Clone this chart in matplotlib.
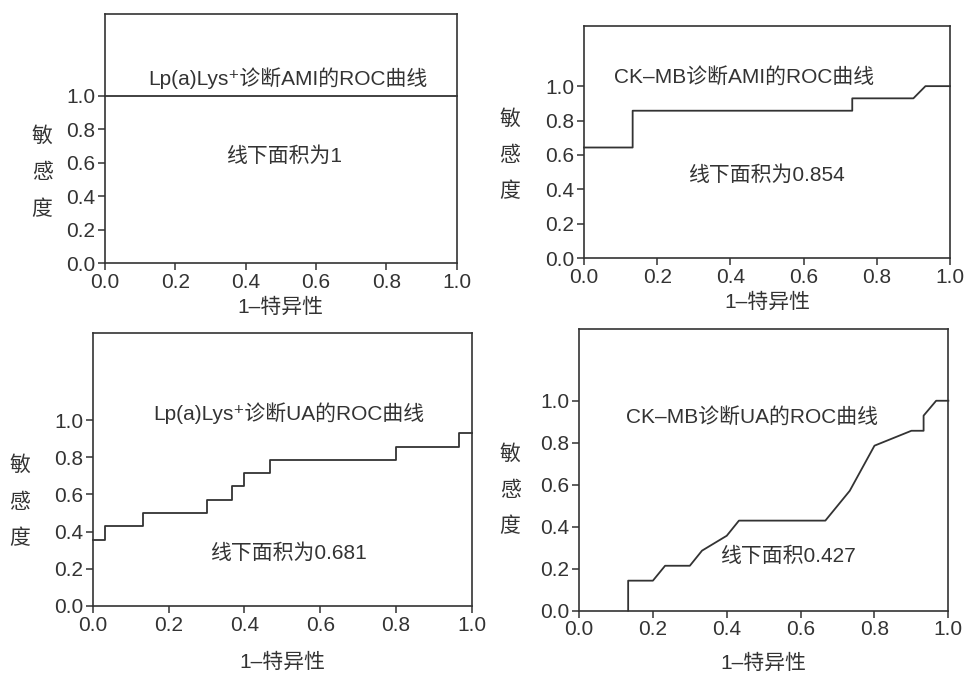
import matplotlib
matplotlib.use("Agg")
from matplotlib import pyplot as plt

plt.rcParams['font.family'] = ['Liberation Sans', 'Noto Sans CJK SC', 'DejaVu Sans']

# ROC curve points (x = 1-specificity, y = sensitivity)
lpa_ami_x = [0.0, 1.0]
lpa_ami_y = [1.0, 1.0]

ckmb_ami_x = [0.0, 0.133, 0.133, 0.733, 0.733, 0.9, 0.933, 1.0]
ckmb_ami_y = [0.643, 0.643, 0.857, 0.857, 0.929, 0.929, 1.0, 1.0]

lpa_ua_x = [0.0, 0.033, 0.033, 0.133, 0.133, 0.3, 0.3, 0.367, 0.367, 0.4, 0.4,
            0.467, 0.467, 0.8, 0.8, 0.967, 0.967, 1.0]
lpa_ua_y = [0.357, 0.357, 0.429, 0.429, 0.5, 0.5, 0.571, 0.571, 0.643, 0.643,
            0.714, 0.714, 0.786, 0.786, 0.857, 0.857, 0.929, 0.929]

ckmb_ua_x = [0.133, 0.133, 0.2, 0.233, 0.3, 0.333, 0.4, 0.433, 0.667, 0.733,
             0.8, 0.9, 0.933, 0.933, 0.967, 1.0]
ckmb_ua_y = [0.0, 0.143, 0.143, 0.214, 0.214, 0.286, 0.357, 0.429, 0.429, 0.571,
             0.786, 0.857, 0.857, 0.929, 1.0, 1.0]

titles = ["Lp(a)Lys\u207a诊断AMI的ROC曲线", "CK\u2013MB诊断AMI的ROC曲线",
          "Lp(a)Lys\u207a诊断UA的ROC曲线", "CK\u2013MB诊断UA的ROC曲线"]
auc_texts = ["线下面积为1", "线下面积为0.854", "线下面积为0.681", "线下面积0.427"]
x_ticks = [0.0, 0.2, 0.4, 0.6, 0.8, 1.0]
y_ticks = [0.0, 0.2, 0.4, 0.6, 0.8, 1.0]
x_label = "1\u2013特异性"
y_label = "敏\n感\n度"

ink = "#333333"
fs = 15

# panel layout: [left, bottom, width, height], y top limit, title pos, auc pos
panels = [
    ([0.1086, 0.6088, 0.3637, 0.370], 1.485, (0.52, 1.105), (0.51, 0.636), lpa_ami_x, lpa_ami_y),
    ([0.6039, 0.6166, 0.3785, 0.3448], 1.35, (0.437, 1.054), (0.499, 0.483), ckmb_ami_x, ckmb_ami_y),
    ([0.0959, 0.0996, 0.3922, 0.406], 1.47, (0.517, 1.036), (0.517, 0.283), lpa_ua_x, lpa_ua_y),
    ([0.5988, 0.0926, 0.3819, 0.418], 1.34, (0.468, 0.924), (0.565, 0.257), ckmb_ua_x, ckmb_ua_y),
]
ylabel_offsets = [63, 74, 73, 69]
ylabel_centres = [0.54, 0.60, 0.56, 0.575]
xlabel_pads = [4, 4, 13, 10]

fig = plt.figure(figsize=(9.67, 6.73), dpi=100)

for i, (rect, ytop, tpos, apos, xs, ys) in enumerate(panels):
    ax = fig.add_axes(rect)
    ax.plot(xs, ys, color=ink, lw=1.3, clip_on=False)
    ax.set_xlim(0, 1)
    ax.set_ylim(0, ytop)
    ax.set_xticks(x_ticks)
    ax.set_xticklabels(["%.1f" % v for v in x_ticks])
    ax.set_yticks(y_ticks)
    ax.set_yticklabels(["%.1f" % v for v in y_ticks])
    ax.tick_params(direction='out', length=5, width=1.1, colors=ink,
                   labelsize=fs, pad=2)
    for s in ax.spines.values():
        s.set_color(ink)
        s.set_linewidth(1.2)
    ax.text(tpos[0], tpos[1], titles[i], ha='center', va='center',
            fontsize=fs, color=ink)
    ax.text(apos[0], apos[1], auc_texts[i], ha='center', va='center',
            fontsize=fs, color=ink)
    ax.set_xlabel(x_label, fontsize=fs, color=ink, labelpad=xlabel_pads[i])
    # stacked vertical y label
    bb = ax.get_position()
    fx = bb.x0 - ylabel_offsets[i] / 967.0
    fy = bb.y0 + bb.height * (ylabel_centres[i] / ytop)
    fig.text(fx, fy, y_label, ha='center', va='center', fontsize=fs,
             color=ink, linespacing=2.1)

fig.savefig("out.png", dpi=100, facecolor='white')
